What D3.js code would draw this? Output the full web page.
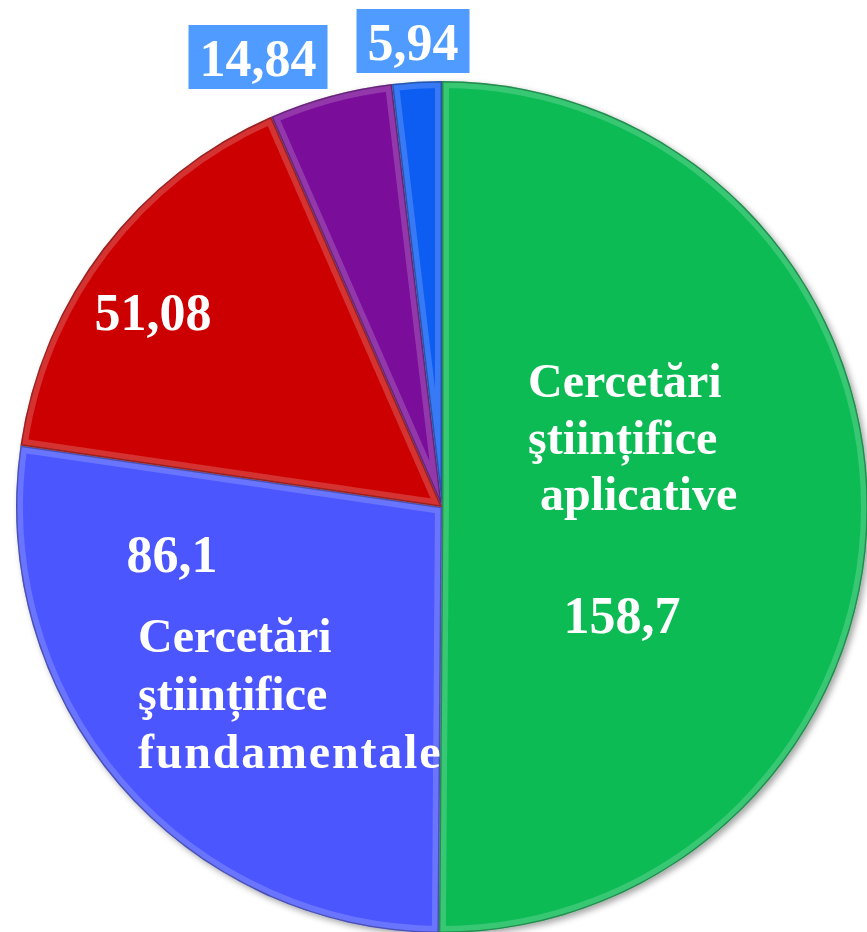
<!DOCTYPE html>
<html lang="ro">
<head>
    <meta charset="UTF-8">
    <title>Cercetări ştiințifice</title>
    <script src="https://d3js.org/d3.v7.min.js"></script>
    <style>
        body { margin: 0; background: #fff; }
        .num { font: bold 52px "Liberation Serif", "Times New Roman", serif; fill: #fff; }
        .cat { font: bold 48px "Liberation Serif", "Times New Roman", serif; fill: #fff; }
    </style>
</head>
<body>
    <svg width="867" height="932"></svg>
    <script>
        // data, clockwise from 12 o'clock
        var categories = ["aplicative", "fundamentale", "c3", "c4", "c5"];
        var values = [158.7, 86.1, 51.08, 14.84, 5.94];
        var valueLabels = ["158,7", "86,1", "51,08", "14,84", "5,94"];
        var colors = ["#0bbb55", "#4b57ff", "#cc0303", "#7a0b99", "#0b5df3"];

        var svg = d3.select("svg"),
            cx = 442, cy = 507, radius = 426;

        var defs = svg.append("defs");
        var f = defs.append("filter").attr("id", "shadow")
            .attr("x", "-10%").attr("y", "-10%").attr("width", "120%").attr("height", "120%");
        f.append("feDropShadow").attr("dx", 3).attr("dy", 3).attr("stdDeviation", 3)
            .attr("flood-color", "#000").attr("flood-opacity", 0.35);

        var g = svg.append("g")
            .attr("transform", "translate(" + cx + "," + cy + ")");

        var pie = d3.pie().sort(null).value(function(d) { return d; });
        var arc = d3.arc().innerRadius(0).outerRadius(radius);
        var arcs = pie(values);

        var slices = g.append("g").attr("filter", "url(#shadow)");

        arcs.forEach(function(d, i) {
            defs.append("clipPath").attr("id", "clip" + i)
                .append("path").attr("d", arc(d));
        });

        var sl = slices.selectAll(".slice")
            .data(arcs)
            .enter().append("g")
            .attr("class", "slice");

        sl.append("path")
            .attr("d", arc)
            .attr("fill", function(d, i) { return colors[i]; });

        // bevel: light inner edge + darker rim, clipped to each slice
        sl.append("path")
            .attr("d", arc)
            .attr("clip-path", function(d, i) { return "url(#clip" + i + ")"; })
            .attr("fill", "none")
            .attr("stroke", "#fff")
            .attr("stroke-opacity", 0.18)
            .attr("stroke-width", 14);
        sl.append("path")
            .attr("d", arc)
            .attr("clip-path", function(d, i) { return "url(#clip" + i + ")"; })
            .attr("fill", "none")
            .attr("stroke", "#000")
            .attr("stroke-opacity", 0.3)
            .attr("stroke-width", 3);

        // category texts (offsets from pie centre)
        var catLines = [
            { lines: ["Cercetări", "ştiințifice", " aplicative"], dx: 86, dy: -110, lh: 56.5, ls: [0, 0, 0] },
            { lines: ["Cercetări", "ştiințifice", "fundamentale"], dx: -304, dy: 145, lh: 58, ls: [0, 0, 1.8] }
        ];
        catLines.forEach(function(c) {
            var t = g.append("text").attr("class", "cat")
                .attr("x", c.dx).attr("y", c.dy)
                .attr("xml:space", "preserve");
            c.lines.forEach(function(l, k) {
                t.append("tspan").attr("x", c.dx).attr("y", c.dy + k * c.lh)
                    .attr("letter-spacing", c.ls[k])
                    .text(l);
            });
        });

        // value labels: in-slice or boxed above the pie
        var numPos = [
            { dx: 180, dy: 126, box: false },
            { dx: -270, dy: 65, box: false },
            { dx: -289, dy: -177, box: false },
            { dx: -184, dy: -431, box: true },
            { dx: -29, dy: -447, box: true }
        ];
        values.forEach(function(v, i) {
            var p = numPos[i];
            var lg = g.append("g");
            var rect = lg.append("rect");
            var t = lg.append("text").attr("class", "num")
                .attr("text-anchor", "middle")
                .attr("x", p.dx).attr("y", p.dy)
                .text(valueLabels[i]);
            if (p.box) {
                var bb = t.node().getBBox();
                rect.attr("x", bb.x - 11).attr("y", p.dy - 51)
                    .attr("width", bb.width + 22).attr("height", 64)
                    .attr("fill", "#4f9bff");
            } else {
                rect.remove();
            }
        });
    </script>
</body>
</html>
